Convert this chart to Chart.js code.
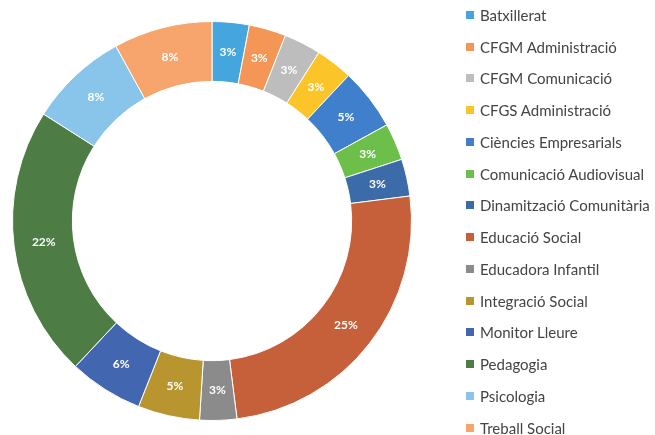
<!DOCTYPE html>
<html>
<head>
<meta charset="utf-8">
<script src="https://cdn.jsdelivr.net/npm/chart.js@4"></script>
<style>
  html, body { margin: 0; padding: 0; background: #fff; }
  #wrap { position: relative; width: 655px; height: 435px; }
  #legend {
    position: absolute; left: 466px; top: -1px; margin: 0; padding: 0;
    list-style: none; font-family: Lato, sans-serif; font-size: 15px; color: #444;
  }
  #legend li { height: 31.75px; display: flex; align-items: center; white-space: nowrap; }
  #legend span.box { display: inline-block; width: 8px; height: 8px; margin-right: 6px; }
</style>
</head>
<body>
<div id="wrap">
  <canvas id="studies" width="655" height="435"></canvas>
  <ul id="legend"></ul>
</div>
<script>
const studies = [
  'Batxillerat', 'CFGM Administració', 'CFGM Comunicació', 'CFGS Administració',
  'Ciències Empresarials', 'Comunicació Audiovisual', 'Dinamització Comunitària',
  'Educació Social', 'Educadora Infantil', 'Integració Social', 'Monitor Lleure',
  'Pedagogia', 'Psicologia', 'Treball Social'
];
const percents = [3, 3, 3, 3, 5, 3, 3, 25, 3, 5, 6, 22, 8, 8];
const sliceColors = [
  '#45A5DD', '#F39656', '#BDBDBD', '#FBC52A', '#3F7FCB', '#6CC04A', '#3B6BA8',
  '#C6603A', '#8B8B8B', '#B8952E', '#4267B0', '#4D7D45', '#89C4EA', '#F7A56C'
];

// percentage text in the middle of each slice
const sliceLabels = {
  id: 'sliceLabels',
  afterDatasetsDraw(chart) {
    const ctx = chart.ctx;
    const meta = chart.getDatasetMeta(0);
    ctx.save();
    ctx.font = 'bold 12px Lato, sans-serif';
    ctx.fillStyle = '#fff';
    ctx.textAlign = 'center';
    ctx.textBaseline = 'middle';
    meta.data.forEach((arc, i) => {
      const pos = arc.tooltipPosition();
      ctx.fillText(chart.data.datasets[0].data[i] + '%', pos.x, pos.y);
    });
    ctx.restore();
  }
};

const studiesChart = new Chart(document.querySelector('#studies'), {
  type: 'doughnut',
  data: {
    labels: studies,
    datasets: [
      {
        data: percents,
        backgroundColor: sliceColors,
        borderColor: '#fff',
        borderWidth: 1,
      },
    ],
  },
  options: {
    responsive: false,
    animation: false,
    cutout: '70%',
    layout: { padding: { left: 12, right: 243, top: 21, bottom: 14 } },
    plugins: {
      legend: { display: false },
      tooltip: { enabled: false },
    },
  },
  plugins: [sliceLabels],
});

const legend = document.querySelector('#legend');
studies.forEach((name, i) => {
  const li = document.createElement('li');
  li.innerHTML = '<span class="box" style="background:' + sliceColors[i] + '"></span>' + name;
  legend.appendChild(li);
});
</script>
</body>
</html>
